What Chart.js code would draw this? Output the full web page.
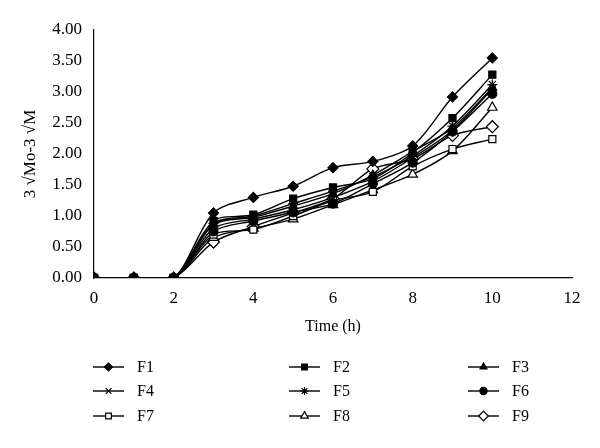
<!DOCTYPE html>
<html>
<head>
<meta charset="utf-8">
<script src="https://cdn.jsdelivr.net/npm/chart.js@4/dist/chart.umd.min.js"></script>
<style>
  html, body { margin: 0; padding: 0; background: #fff; }
  #wrap { width: 600px; height: 448px; }
</style>
</head>
<body>
<div id="wrap"><canvas id="c" width="600" height="448"></canvas></div>
<script>
// time points (h)
const hours = [0, 1, 2, 3, 4, 5, 6, 7, 8, 9, 10];
const labels = ['F1', 'F2', 'F3', 'F4', 'F5', 'F6', 'F7', 'F8', 'F9'];

// cube-root release values
const f1 = [0, 0, 0, 1.05, 1.30, 1.48, 1.78, 1.88, 2.13, 2.92, 3.55];
const f2 = [0, 0, 0, 0.92, 1.02, 1.28, 1.46, 1.60, 2.02, 2.58, 3.28];
const f3 = [0, 0, 0, 0.86, 0.98, 1.16, 1.36, 1.66, 2.04, 2.42, 3.07];
const f4 = [0, 0, 0, 0.80, 0.95, 1.10, 1.30, 1.56, 1.94, 2.38, 3.05];
const f5 = [0, 0, 0, 0.88, 1.00, 1.20, 1.40, 1.63, 1.97, 2.45, 3.12];
const f6 = [0, 0, 0, 0.75, 0.92, 1.06, 1.20, 1.52, 1.86, 2.36, 2.97];
const f7 = [0, 0, 0, 0.70, 0.78, 1.00, 1.25, 1.39, 1.80, 2.08, 2.24];
const f8 = [0, 0, 0, 0.65, 0.80, 0.95, 1.18, 1.42, 1.67, 2.05, 2.75];
const f9 = [0, 0, 0, 0.58, 0.83, 1.05, 1.28, 1.76, 1.92, 2.30, 2.44];

const yTicks = [0, 0.5, 1, 1.5, 2, 2.5, 3, 3.5, 4];
const xTicks = [0, 2, 4, 6, 8, 10, 12];

const series = [f1, f2, f3, f4, f5, f6, f7, f8, f9];
const markers = [
  { style: 'rectRot', fill: '#000', r: 5 },
  { style: 'rect', fill: '#000', r: 5 },
  { style: 'triangle', fill: '#000', r: 5 },
  { style: 'crossRot', fill: '#000', r: 5 },
  { style: 'star', fill: '#000', r: 5 },
  { style: 'circle', fill: '#000', r: 4.5 },
  { style: 'rect', fill: '#fff', r: 5 },
  { style: 'triangle', fill: '#fff', r: 5.5 },
  { style: 'rectRot', fill: '#fff', r: 6 },
];

const FONT = "'Liberation Serif', 'DejaVu Serif', serif";

const datasets = series.map((vals, i) => ({
  label: labels[i],
  data: hours.map((h, k) => ({ x: h, y: vals[k] })),
  borderColor: '#000',
  borderWidth: 1.4,
  tension: 0.3,
  pointStyle: markers[i].style,
  pointRadius: markers[i].r,
  pointBackgroundColor: markers[i].fill,
  pointBorderColor: '#000',
  pointBorderWidth: 1.2,
  fill: false,
}));

// three-column legend under the axis, drawn on the canvas
const gridLegend = {
  id: 'gridLegend',
  afterDraw(chart) {
    const ctx = chart.ctx;
    const lineX = [93, 289, 468];
    const rowY = [367, 391, 416];
    ctx.save();
    chart.data.datasets.forEach((ds, i) => {
      const col = i % 3, row = Math.floor(i / 3);
      const x0 = lineX[col], y = rowY[row];
      ctx.strokeStyle = '#000';
      ctx.lineWidth = 1.4;
      ctx.beginPath();
      ctx.moveTo(x0, y);
      ctx.lineTo(x0 + 31, y);
      ctx.stroke();
      ctx.fillStyle = ds.pointBackgroundColor;
      ctx.lineWidth = 1.2;
      Chart.helpers.drawPoint(ctx, { pointStyle: ds.pointStyle, radius: ds.pointRadius * 0.8, borderWidth: 1.2 }, x0 + 15.5, y);
      ctx.fillStyle = '#000';
      ctx.font = '16px ' + FONT;
      ctx.textBaseline = 'middle';
      ctx.textAlign = 'left';
      ctx.fillText(ds.label, x0 + 44, y + 1);
    });
    ctx.restore();
  }
};

new Chart(document.getElementById('c'), {
  type: 'line',
  data: { datasets },
  options: {
    responsive: false,
    animation: false,
    layout: { padding: { top: 30, right: 28, bottom: 110, left: 0 } },
    plugins: { legend: { display: false }, tooltip: { enabled: false } },
    scales: {
      x: {
        type: 'linear', min: 0, max: 12,
        afterBuildTicks: s => { s.ticks = xTicks.map(v => ({ value: v })); },
        afterFit: s => { s.height = 60; },
        grid: { display: false, drawOnChartArea: false, drawTicks: true, tickLength: 5, tickColor: '#000' },
        border: { color: '#000', width: 1.2 },
        ticks: { color: '#000', font: { family: FONT, size: 17 }, padding: 5, maxRotation: 0 },
        title: { display: true, text: 'Time (h)', color: '#000', font: { family: FONT, size: 16 }, padding: { top: 4, bottom: 2 } },
      },
      y: {
        min: 0, max: 4,
        afterBuildTicks: s => { s.ticks = yTicks.map(v => ({ value: v })); },
        afterFit: s => { s.width = 94; },
        grid: { display: false, drawOnChartArea: false, drawTicks: true, tickLength: 5, tickColor: '#000' },
        border: { color: '#000', width: 1.2 },
        ticks: { color: '#000', font: { family: FONT, size: 17 }, padding: 7, callback: v => v.toFixed(2) },
        title: { display: true, text: '3 √Mo-3 √M', color: '#000', font: { family: FONT, size: 17 }, padding: { top: 20, bottom: 0 } },
      },
    },
  },
  plugins: [gridLegend],
});
</script>
</body>
</html>
